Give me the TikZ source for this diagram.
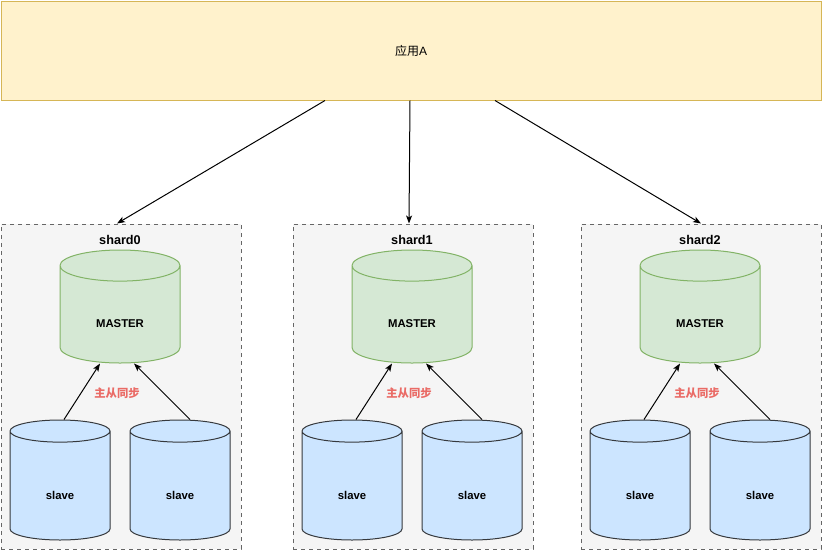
\documentclass[tikz,border=0pt]{standalone}
\usepackage{fontspec}
\setmainfont{Liberation Sans}
\newfontfamily\cjk{Noto Sans CJK SC}
\usetikzlibrary{shapes.geometric,calc,arrows.meta}

\definecolor{appfill}{HTML}{FFF2CC}
\definecolor{appline}{HTML}{D6B656}
\definecolor{shardfill}{HTML}{F5F5F5}
\definecolor{shardline}{HTML}{666666}
\definecolor{masterfill}{HTML}{D5E8D4}
\definecolor{masterline}{HTML}{82B366}
\definecolor{slavefill}{HTML}{CCE5FF}
\definecolor{slaveline}{HTML}{36393D}
\definecolor{syncred}{HTML}{EA6B66}

\tikzset{
  app/.style={draw=appline,fill=appfill,inner sep=0,
    minimum width=820*0.75pt,minimum height=99*0.75pt,font=\fontsize{9}{11}\selectfont},
  shardbox/.style={draw=shardline,fill=shardfill,dashed,inner sep=0,
    minimum width=240*0.75pt,minimum height=325*0.75pt},
  master/.style={cylinder,shape border rotate=90,draw=masterline,fill=masterfill,
    aspect=0.65,inner sep=0,minimum width=120*0.75pt,minimum height=113*0.75pt,
    text height=19.5pt,text depth=0pt,
    anchor=shape center,font=\bfseries\fontsize{8.5}{10}\selectfont},
  slave/.style={cylinder,shape border rotate=90,draw=slaveline,fill=slavefill,
    aspect=0.78,inner sep=0,minimum width=100*0.75pt,minimum height=120*0.75pt,
    text height=20.8pt,text depth=0pt,
    anchor=shape center,font=\bfseries\fontsize{8.5}{10}\selectfont},
  tag/.style={font=\bfseries\fontsize{9.5}{11}\selectfont},
  sync/.style={text=syncred,font=\cjk\bfseries\fontsize{8.5}{10}\selectfont}
}

\begin{document}
\begin{tikzpicture}[>={Stealth[length=6pt,width=4.5pt,inset=1.5pt]},x=0.75pt,y=-0.75pt,line width=0.75pt]
  \useasboundingbox (0,0) rectangle (822,551);
  \node[app] (app) at (411,50.5) {{\cjk 应用}A};
  % one shard per column: offset, name
  \foreach \dx/\i in {0/0,292/1,580/2}{
    \node[shardbox] (sh\i) at (121+\dx,386.5) {};
    \node[tag] at (120+\dx,240) {shard\i};
    \node[master] (m\i) at (120+\dx,306.5) {MASTER};
    \node[slave] (sa\i) at (60+\dx,480) {slave};
    \node[slave] (sb\i) at (180+\dx,480) {slave};
    \node[sync] at (117+\dx,393) {主从同步};
    \draw[->] ($(sa\i.north)+(4,0)$) -- ($(m\i.south)+(-20,0)$);
    \draw[->] ($(sb\i.north)+(10,0)$) -- ($(m\i.south)+(14,0)$);
  }
  \draw[->] ($(app.south)+(-86,0)$) -- ($(sh0.north)+(-4,0)$);
  \draw[->] ($(app.south)+(-1,0)$) -- ($(sh1.north)+(-4,0)$);
  \draw[->] ($(app.south)+(84,0)$) -- (sh2.north);
\end{tikzpicture}
\end{document}
